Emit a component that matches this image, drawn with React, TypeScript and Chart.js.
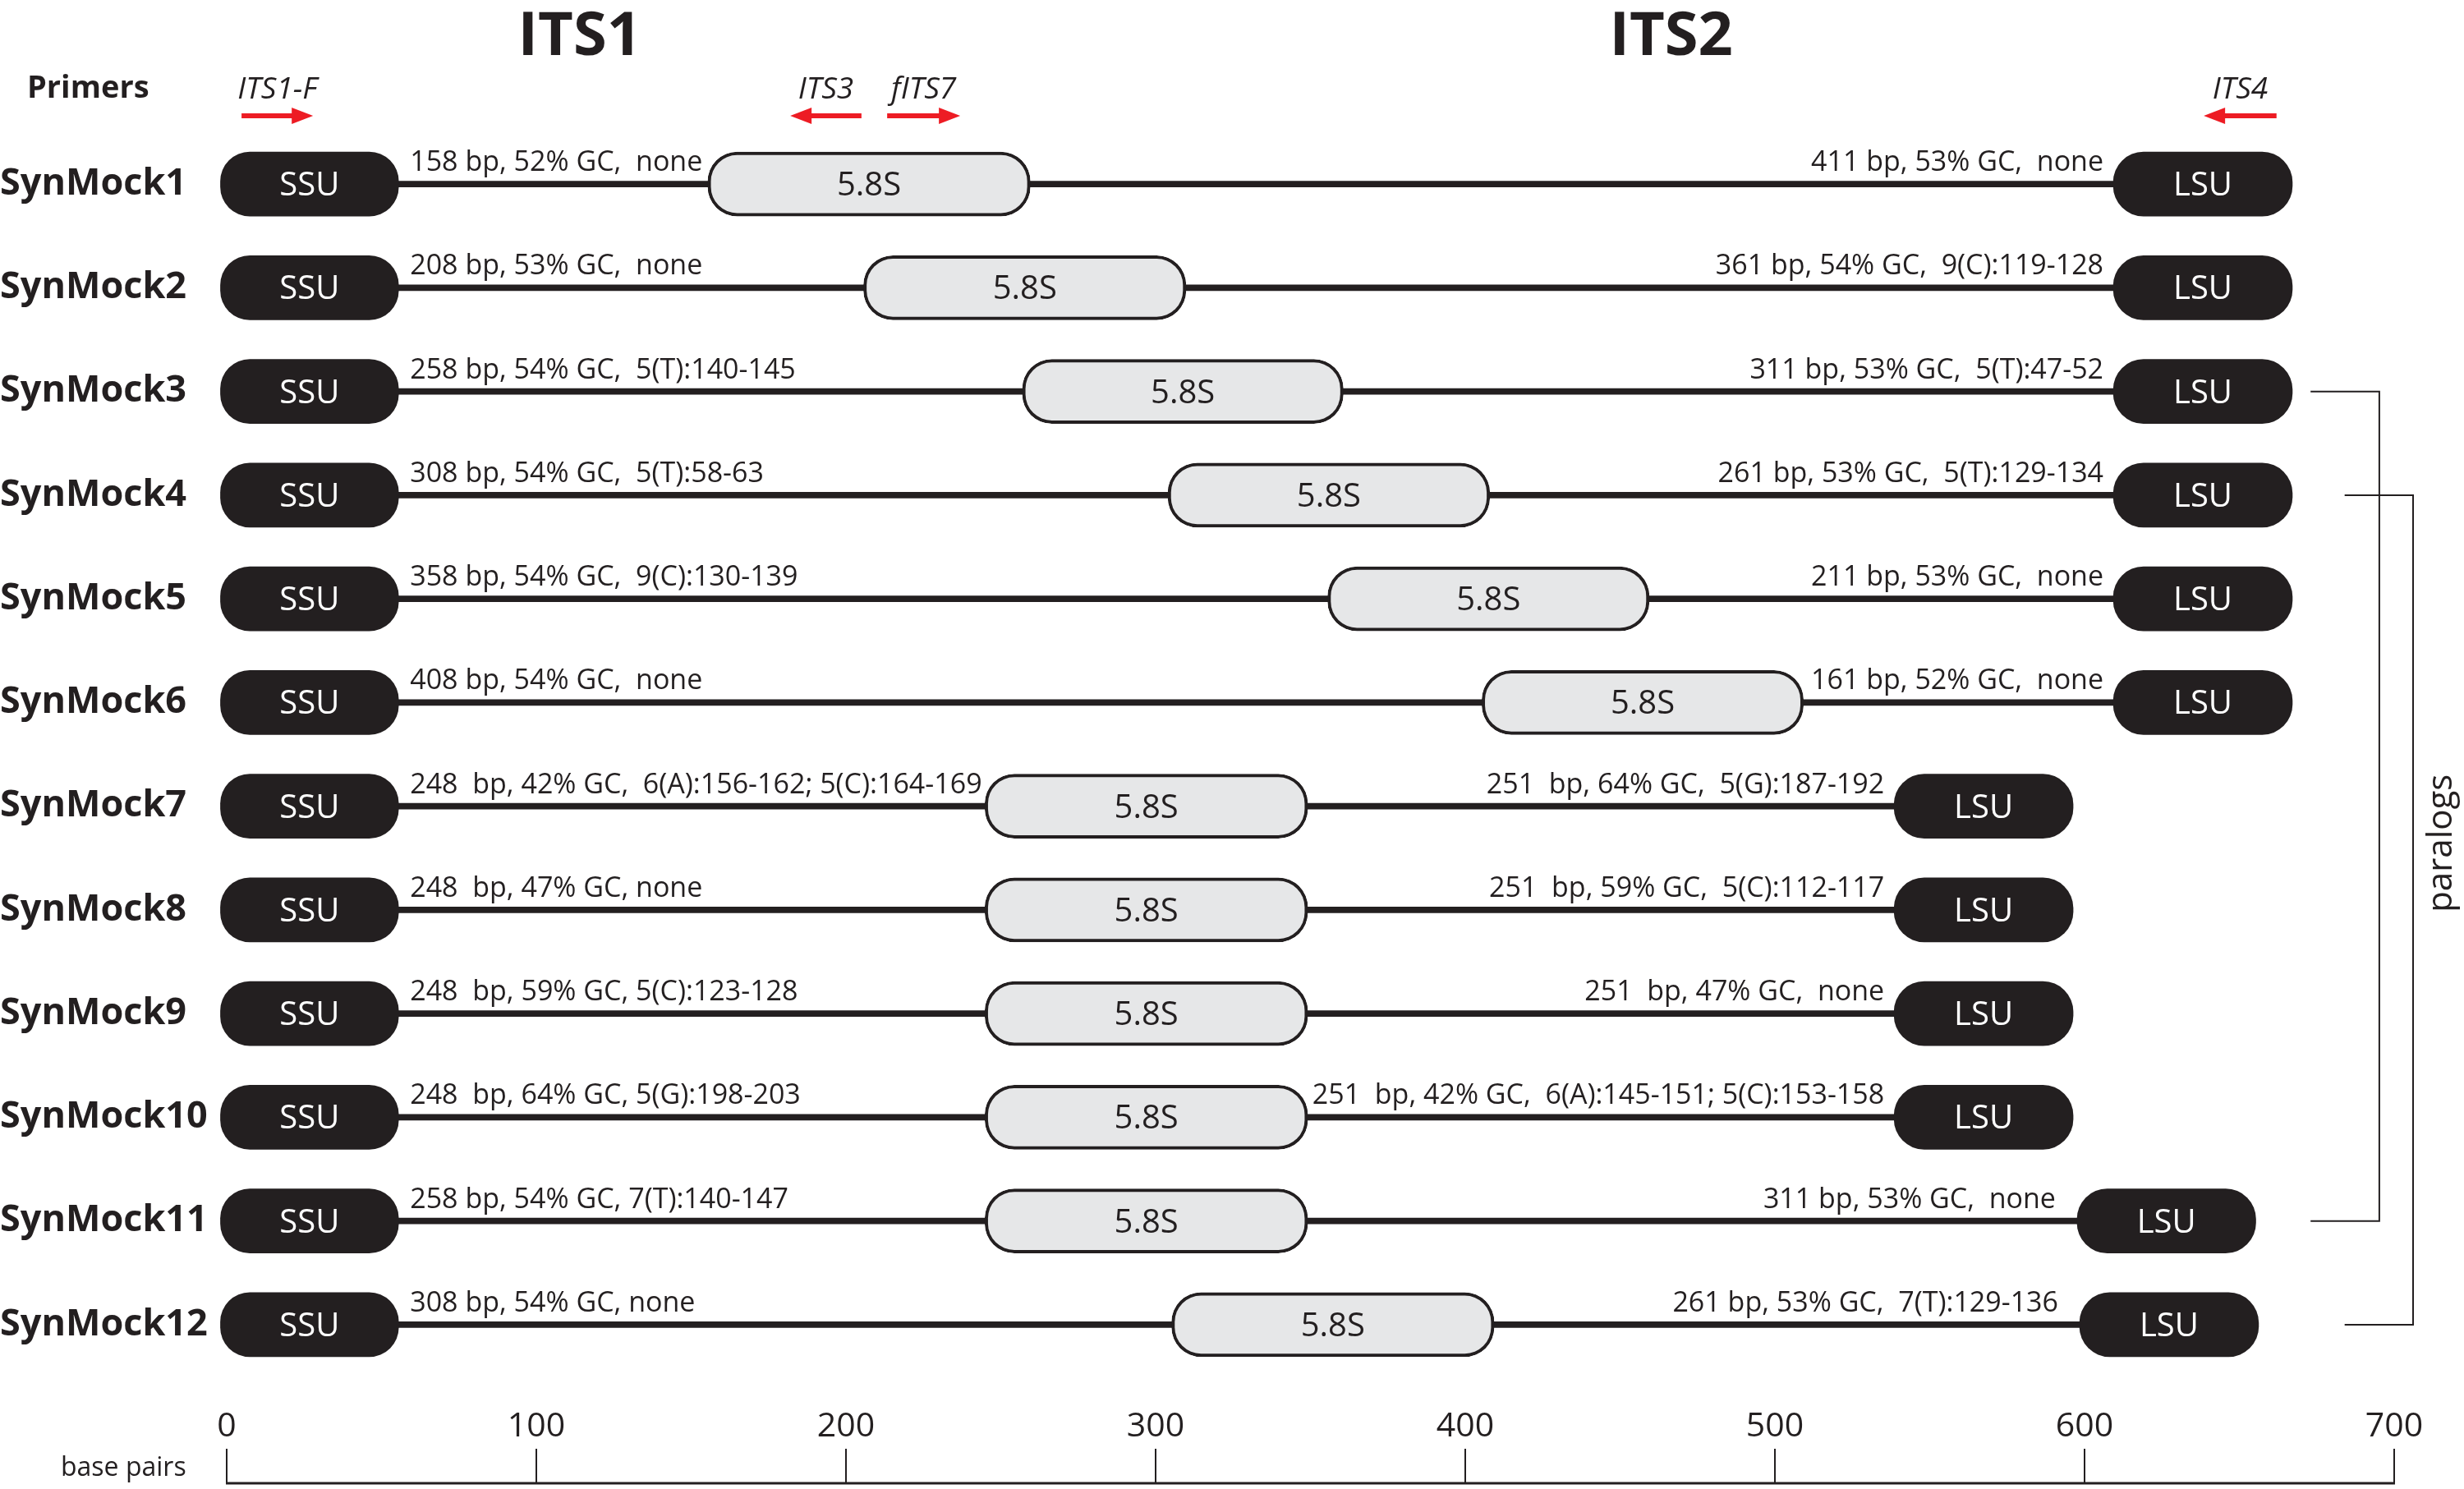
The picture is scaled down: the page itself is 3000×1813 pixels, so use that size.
import React, { useEffect, useRef } from 'react';
import { Chart, registerables } from 'chart.js';

Chart.register(...registerables);

// ---------------- data ----------------
const rows = [
  'SynMock1', 'SynMock2', 'SynMock3', 'SynMock4', 'SynMock5', 'SynMock6',
  'SynMock7', 'SynMock8', 'SynMock9', 'SynMock10', 'SynMock11', 'SynMock12',
];

// region boundaries in base pairs
const ssuStart = [-2, -2, -2, -2, -2, -2, -2, -2, -2, -2, -2, -2];
const ssuEnd = [55.5, 55.5, 55.5, 55.5, 55.5, 55.5, 55.5, 55.5, 55.5, 55.5, 55.5, 55.5];
const s58Start = [155.4, 205.7, 257.0, 304.0, 355.6, 405.4, 244.9, 244.9, 244.9, 244.9, 244.9, 305.2];
const s58End = [259.5, 309.8, 360.6, 407.9, 459.4, 509.2, 349.1, 349.1, 349.1, 349.1, 349.1, 409.3];
const lsuStart = [609.3, 609.3, 609.3, 609.3, 609.3, 609.3, 538.5, 538.5, 538.5, 538.5, 597.6, 598.4];
const lsuEnd = [667.1, 667.1, 667.1, 667.1, 667.1, 667.1, 596.3, 596.3, 596.3, 596.3, 655.3, 656.2];

const its1Labels = [
  '158 bp, 52% GC,  none',
  '208 bp, 53% GC,  none',
  '258 bp, 54% GC,  5(T):140-145',
  '308 bp, 54% GC,  5(T):58-63',
  '358 bp, 54% GC,  9(C):130-139',
  '408 bp, 54% GC,  none',
  '248  bp, 42% GC,  6(A):156-162; 5(C):164-169',
  '248  bp, 47% GC, none',
  '248  bp, 59% GC, 5(C):123-128',
  '248  bp, 64% GC, 5(G):198-203',
  '258 bp, 54% GC, 7(T):140-147',
  '308 bp, 54% GC, none',
];

const its2Labels = [
  '411 bp, 53% GC,  none',
  '361 bp, 54% GC,  9(C):119-128',
  '311 bp, 53% GC,  5(T):47-52',
  '261 bp, 53% GC,  5(T):129-134',
  '211 bp, 53% GC,  none',
  '161 bp, 52% GC,  none',
  '251  bp, 64% GC,  5(G):187-192',
  '251  bp, 59% GC,  5(C):112-117',
  '251  bp, 47% GC,  none',
  '251  bp, 42% GC,  6(A):145-151; 5(C):153-158',
  '311 bp, 53% GC,  none',
  '261 bp, 53% GC,  7(T):129-136',
];

const primerNames = ['ITS1-F', 'ITS3', 'fITS7', 'ITS4'];
const primerFrom = [4.8, 205.0, 213.3, 662.0];
const primerTo = [27.9, 182.0, 236.9, 638.5];

const regionTitles = ['ITS1', 'ITS2'];
const regionCenters = [114, 466.5];

const paralogFirstRow = [2, 3];
const paralogLastRow = [10, 11];
const paralogFrom = [673, 684];
const paralogTo = [695.2, 706.1];

const axisTicks = [0, 100, 200, 300, 400, 500, 600, 700];

// ---------------- styles ----------------
const DARK = '#231f20';
const LIGHT = '#e6e7e8';
const RED = '#ed1c24';
const FONT = '"Open Sans", "DejaVu Sans", sans-serif';

const diagramPlugin = {
  id: 'diagramText',
  afterDatasetsDraw(chart: any) {
    const ctx: CanvasRenderingContext2D = chart.ctx;
    const xs = chart.scales.x;
    const ys = chart.scales.y;
    const px = (v: number) => xs.getPixelForValue(v);
    const py = (i: number) => ys.getPixelForValue(i);
    ctx.save();

    // box labels
    ctx.font = `40px ${FONT}`;
    ctx.textAlign = 'center';
    ctx.textBaseline = 'alphabetic';
    rows.forEach((_, i) => {
      const cy = py(i) + 14;
      ctx.fillStyle = '#ffffff';
      ctx.fillText('SSU', px((ssuStart[i] + ssuEnd[i]) / 2), cy);
      ctx.fillText('LSU', px((lsuStart[i] + lsuEnd[i]) / 2), cy);
      ctx.fillStyle = DARK;
      ctx.fillText('5.8S', px((s58Start[i] + s58End[i]) / 2), cy);
    });

    // spacer annotations
    ctx.font = `34px ${FONT}`;
    ctx.fillStyle = DARK;
    rows.forEach((_, i) => {
      const by = py(i) - 16;
      ctx.textAlign = 'left';
      ctx.fillText(its1Labels[i], px(ssuEnd[i]) + 14, by);
      ctx.textAlign = 'right';
      ctx.fillText(its2Labels[i], px(lsuStart[i]) - (i >= 10 ? 26 : 12), by);
    });

    // region titles
    ctx.font = `bold 74px ${FONT}`;
    ctx.textAlign = 'center';
    regionTitles.forEach((t, i) => {
      ctx.fillText(t, px(regionCenters[i]), 67);
    });

    // primers
    ctx.font = `bold 38px ${FONT}`;
    ctx.textAlign = 'left';
    ctx.fillText('Primers', 33, 119);
    ctx.font = `italic 37px ${FONT}`;
    ctx.textAlign = 'center';
    primerNames.forEach((name, i) => {
      const a = px(primerFrom[i]);
      const b = px(primerTo[i]);
      ctx.fillStyle = DARK;
      ctx.fillText(name, (a + b) / 2, 120);
      const dir = b > a ? 1 : -1;
      const ay = 141;
      const head = 26;
      ctx.strokeStyle = RED;
      ctx.fillStyle = RED;
      ctx.lineWidth = 6;
      ctx.beginPath();
      ctx.moveTo(a, ay);
      ctx.lineTo(b - dir * head + dir * 2, ay);
      ctx.stroke();
      ctx.beginPath();
      ctx.moveTo(b, ay);
      ctx.lineTo(b - dir * head, ay - 10);
      ctx.lineTo(b - dir * head, ay + 10);
      ctx.closePath();
      ctx.fill();
    });

    // paralog brackets
    ctx.strokeStyle = DARK;
    ctx.lineWidth = 2;
    paralogFirstRow.forEach((r0, k) => {
      const r1 = paralogLastRow[k];
      const x0 = px(paralogFrom[k]);
      const x1 = px(paralogTo[k]);
      ctx.beginPath();
      ctx.moveTo(x0, py(r0));
      ctx.lineTo(x1, py(r0));
      ctx.lineTo(x1, py(r1));
      ctx.lineTo(x0, py(r1));
      ctx.stroke();
    });
    ctx.save();
    ctx.translate(px(715.5), (py(paralogFirstRow[0]) + py(paralogLastRow[1])) / 2 - 18);
    ctx.rotate(-Math.PI / 2);
    ctx.font = `42px ${FONT}`;
    ctx.fillStyle = DARK;
    ctx.textAlign = 'center';
    ctx.textBaseline = 'middle';
    ctx.fillText('paralogs', 0, 0);
    ctx.restore();

    // base-pair axis
    const axisY = 1806;
    ctx.strokeStyle = DARK;
    ctx.lineWidth = 3;
    ctx.beginPath();
    ctx.moveTo(px(axisTicks[0]) - 1, axisY);
    ctx.lineTo(px(axisTicks[axisTicks.length - 1]) + 1, axisY);
    ctx.stroke();
    ctx.lineWidth = 2;
    ctx.font = `41px ${FONT}`;
    ctx.fillStyle = DARK;
    ctx.textAlign = 'center';
    ctx.textBaseline = 'alphabetic';
    axisTicks.forEach((t) => {
      const x = px(t);
      ctx.beginPath();
      ctx.moveTo(x, 1764);
      ctx.lineTo(x, axisY);
      ctx.stroke();
      ctx.fillText(String(t), x, 1749);
    });
    ctx.font = `32px ${FONT}`;
    ctx.textAlign = 'left';
    ctx.fillText('base pairs', 74, 1797);

    ctx.restore();
  },
};

export default function App() {
  const canvasRef = useRef<HTMLCanvasElement | null>(null);

  useEffect(() => {
    const canvas = canvasRef.current;
    if (!canvas) return;
    Chart.defaults.font.family = FONT;

    const pairs = (a: number[], b: number[]) => a.map((v, i) => [v, b[i]]);

    const chart = new Chart(canvas, {
      type: 'bar',
      data: {
        labels: rows,
        datasets: [
          {
            label: 'SSU',
            data: pairs(ssuStart, ssuEnd) as any,
            backgroundColor: DARK,
            borderWidth: 0,
            borderRadius: 36,
            borderSkipped: false,
            barThickness: 78,
            grouped: false,
            clip: false as any,
          },
          {
            label: '5.8S',
            data: pairs(s58Start, s58End) as any,
            backgroundColor: LIGHT,
            borderColor: DARK,
            borderWidth: 4,
            borderRadius: 36,
            borderSkipped: false,
            barThickness: 78,
            grouped: false,
            clip: false as any,
          },
          {
            label: 'LSU',
            data: pairs(lsuStart, lsuEnd) as any,
            backgroundColor: DARK,
            borderWidth: 0,
            borderRadius: 37,
            borderSkipped: false,
            barThickness: 78,
            grouped: false,
            clip: false as any,
          },
          {
            label: 'ITS',
            data: pairs(ssuEnd.map((v) => v - 2), lsuStart.map((v) => v + 2)) as any,
            backgroundColor: DARK,
            borderWidth: 0,
            borderSkipped: false,
            barThickness: 7,
            grouped: false,
            clip: false as any,
          },
        ],
      },
      options: {
        indexAxis: 'y',
        responsive: false,
        maintainAspectRatio: false,
        animation: false,
        devicePixelRatio: 1,
        layout: { padding: { left: 0, right: 85, top: 161, bottom: 137 } },
        plugins: {
          legend: { display: false },
          tooltip: { enabled: false },
        },
        scales: {
          x: {
            type: 'linear',
            min: 0,
            max: 700,
            display: false,
          },
          y: {
            type: 'category',
            offset: true,
            grid: { display: false },
            border: { display: false },
            ticks: {
              autoSkip: false,
              crossAlign: 'far',
              padding: 0,
              color: DARK,
              font: { family: FONT, weight: 'bold', size: 45 },
            },
            afterFit: (scale: any) => {
              scale.width = 276;
            },
          },
        },
      } as any,
      plugins: [diagramPlugin],
    });

    return () => chart.destroy();
  }, []);

  return (
    <div style={{ position: 'absolute', left: 0, top: 0, width: 3000, height: 1813, background: '#ffffff' }}>
      <canvas ref={canvasRef} width={3000} height={1813} style={{ display: 'block', width: 3000, height: 1813 }} />
    </div>
  );
}
